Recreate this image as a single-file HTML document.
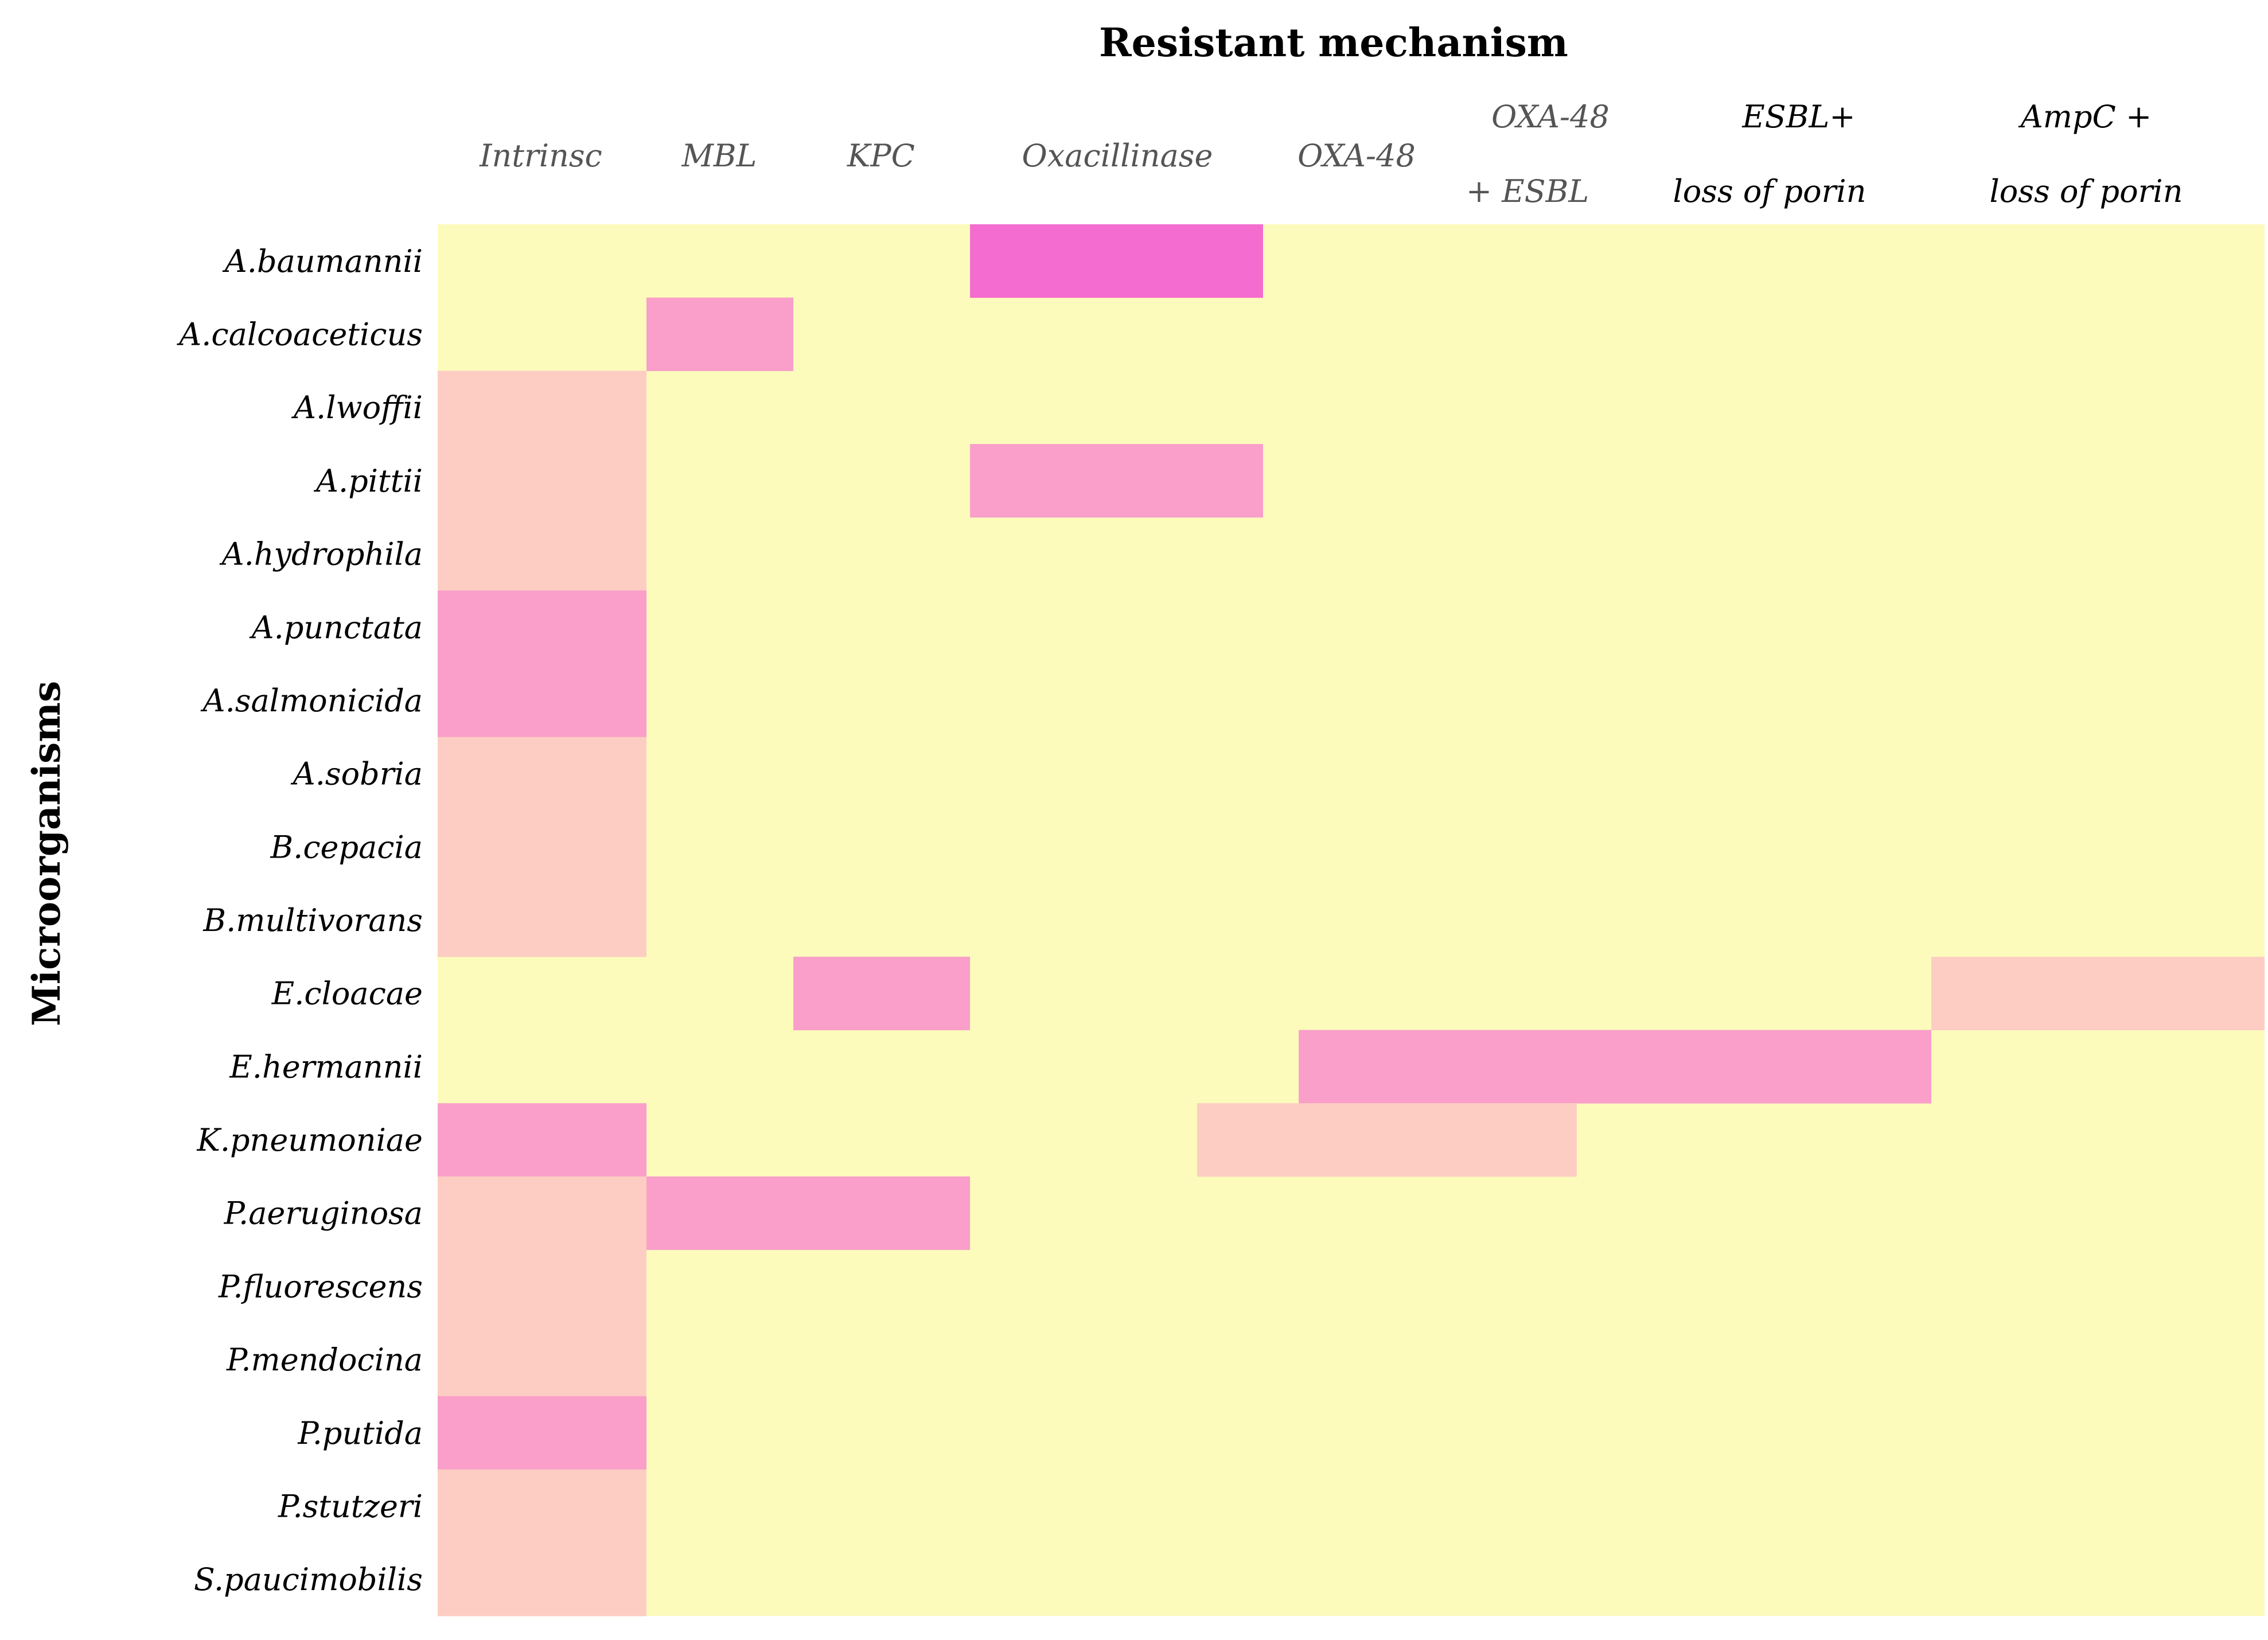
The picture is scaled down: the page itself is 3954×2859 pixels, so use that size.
<!DOCTYPE html>
<html><head><meta charset="utf-8"><style>
html,body{margin:0;padding:0;background:#fff}
svg{display:block}
text{font-family:"DejaVu Serif","Liberation Serif",serif}
</style></head><body>
<svg id="chart" width="3954" height="2859" viewBox="0 0 3954 2859">
<text x="2325" y="98" font-size="68" font-weight="bold" text-anchor="middle">Resistant mechanism</text>
<text transform="translate(104,1488) rotate(-90)" font-size="66" font-weight="bold" text-anchor="middle">Microorganisms</text>
<g id="cells"></g>
<g id="ylabels"></g>
<g id="xlabels" font-style="italic" font-size="54" text-anchor="middle">
<text x="943" y="290" fill="#555">Intrinsc</text>
<text x="1254" y="290" fill="#555">MBL</text>
<text x="1536" y="290" fill="#555">KPC</text>
<text x="1948" y="290" fill="#555">Oxacillinase</text>
<text x="2365" y="290" fill="#555">OXA-48</text>
<text x="2703" y="222" fill="#555">OXA-48</text>
<text x="2663" y="352" fill="#555">+ ESBL</text>
<text x="3136" y="222" fill="#000">ESBL+</text>
<text x="3085" y="352" fill="#000">loss of porin</text>
<text x="3637" y="222" fill="#000">AmpC +</text>
<text x="3637" y="352" fill="#000">loss of porin</text>
</g>
</svg>
<script>
const rows = ["A.baumannii","A.calcoaceticus","A.lwoffii","A.pittii","A.hydrophila","A.punctata","A.salmonicida","A.sobria","B.cepacia","B.multivorans","E.cloacae","E.hermannii","K.pneumoniae","P.aeruginosa","P.fluorescens","P.mendocina","P.putida","P.stutzeri","S.paucimobilis"];
const cellRow =   [0,1,2,3,3,4,5,6,7,8,9,10,10,11,12,12,13,13,14,15,16,17,18];
const cellStart = [29.14,11.43,0,0,29.14,0,0,0,0,0,0,19.47,81.76,47.13,0,41.57,0,11.43,0,0,0,0,0];
const cellEnd =   [45.18,19.47,11.43,11.43,45.18,11.43,11.43,11.43,11.43,11.43,11.43,29.14,100,81.76,11.43,62.35,11.43,29.14,11.43,11.43,11.43,11.43,11.43];
const cellLevel = [3,2,1,1,2,1,2,2,1,1,1,2,1,2,2,1,1,2,1,1,2,1,1];
const palette = ["#fcfbbc","#fdcdc3","#f99fc9","#f46ccf"];
const X0=763, X1=3948, Y0=391, Y1=2817;
const NS="http://www.w3.org/2000/svg";
const xs = v => X0 + (v/100)*(X1-X0);
const rh = (Y1-Y0)/rows.length;
const ys = i => Y0 + i*rh;
const cg = document.getElementById('cells');
const bg = document.createElementNS(NS,'rect');
bg.setAttribute('x',X0);bg.setAttribute('y',Y0);bg.setAttribute('width',X1-X0);bg.setAttribute('height',Y1-Y0);bg.setAttribute('fill',palette[0]);


cg.appendChild(bg);
for(let k=0;k<cellRow.length;k++){
  const r=document.createElementNS(NS,'rect');
  const a=xs(cellStart[k]), b=xs(cellEnd[k]);
  r.setAttribute('x',a);r.setAttribute('y',ys(cellRow[k]));
  r.setAttribute('width',b-a);r.setAttribute('height',rh+0.5);
  r.setAttribute('fill',palette[cellLevel[k]]);
  
  
  cg.appendChild(r);
}
const yg=document.getElementById('ylabels');
rows.forEach((n,i)=>{
  const t=document.createElementNS(NS,'text');
  t.setAttribute('x',737);t.setAttribute('y',ys(i)+rh/2+19);
  t.setAttribute('font-size','54');t.setAttribute('font-style','italic');t.setAttribute('text-anchor','end');
  t.textContent=n;
  
  
  yg.appendChild(t);
});
</script>
</body></html>
